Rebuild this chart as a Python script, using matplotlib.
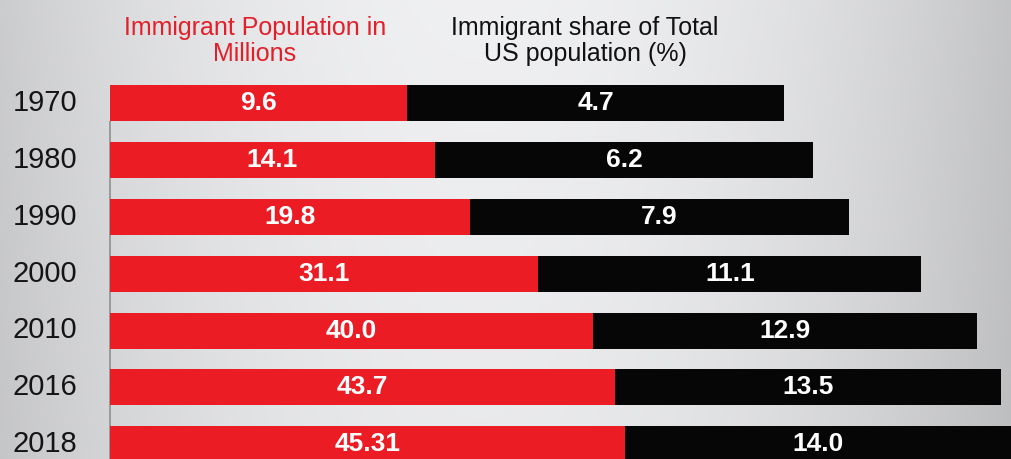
import numpy as np
import matplotlib
matplotlib.use("Agg")
import matplotlib.pyplot as plt

plt.rcParams['font.family'] = ['Liberation Sans', 'DejaVu Sans']

# ---- data -------------------------------------------------------------
years = ['1970', '1980', '1990', '2000', '2010', '2016', '2018']
population_labels = ['9.6', '14.1', '19.8', '31.1', '40.0', '43.7', '45.31']
share_labels = ['4.7', '6.2', '7.9', '11.1', '12.9', '13.5', '14.0']
population_millions = [float(s) for s in population_labels]
share_percent = [float(s) for s in share_labels]

header_population = 'Immigrant Population in\nMillions'
header_share = 'Immigrant share of Total\nUS population (%)'

# ---- style ------------------------------------------------------------
RED = '#ec1c24'
BLACK = '#060606'
W, H = 1012, 459
BAR_LEFT = 110
RED_BASE, RED_SCALE = 239.0, 6.09      # red segment length = base + scale * millions
BLACK_BASE, BLACK_SCALE = 372.0, 1.0   # black segment length = base + scale * percent
ROW_PITCH = 56.75
FIRST_ROW_PX = 103.5
BAR_HEIGHT = 36 / ROW_PITCH

fig = plt.figure(figsize=(W / 100, H / 100), dpi=100)

# soft grey backdrop, lighter towards the centre
bg = fig.add_axes([0, 0, 1, 1])
xs = np.linspace(0, 1, 400)
ys = np.linspace(0, 1, 200)
X, Y = np.meshgrid(xs, ys)
shade = 0.93 - 0.17 * ((X * W - 480) / 530) ** 2 + 0.025 * (0.5 - Y)
shade = np.clip(shade, 0, 1)
bg.imshow(np.dstack([shade - 0.004, shade - 0.002, shade + 0.004]).clip(0, 1),
          extent=(0, 1, 0, 1), aspect='auto', origin='upper', interpolation='bilinear')
bg.set_axis_off()

ax = fig.add_axes([0, 0, 1, 1])
ax.patch.set_alpha(0)
ax.set_xlim(0, W)
top_row = -FIRST_ROW_PX / ROW_PITCH
bottom_row = (H - FIRST_ROW_PX) / ROW_PITCH
ax.set_ylim(bottom_row, top_row)
ax.set_axis_off()

rows = np.arange(len(years))
red_w = RED_BASE + RED_SCALE * np.array(population_millions)
black_w = BLACK_BASE + BLACK_SCALE * np.array(share_percent)

ax.barh(rows, red_w, left=BAR_LEFT, height=BAR_HEIGHT, color=RED, linewidth=0, zorder=2)
ax.barh(rows, black_w, left=BAR_LEFT + red_w, height=BAR_HEIGHT, color=BLACK,
        linewidth=0, zorder=2)

# left axis line running down between the bars
ax.vlines(BAR_LEFT, rows[0] + BAR_HEIGHT / 2, bottom_row, color='#8f9092', lw=1.2, zorder=1)

for i, yr in enumerate(years):
    ax.text(77, rows[i], yr, ha='right', va='center', fontsize=21, color='#141414')
    ax.text(BAR_LEFT + red_w[i] / 2, rows[i], population_labels[i], ha='center',
            va='center', fontsize=19, fontweight='bold', color='white', zorder=3)
    ax.text(BAR_LEFT + red_w[i] + black_w[i] / 2, rows[i], share_labels[i], ha='center',
            va='center', fontsize=19, fontweight='bold', color='white', zorder=3)

fig.text(255 / W, 1 - 16 / H, header_population, ha='center', va='top',
         fontsize=18, color='#e3202a', linespacing=1.12)
fig.text(585 / W, 1 - 16 / H, header_share, ha='center', va='top',
         fontsize=18, color='#111111', linespacing=1.12)

fig.savefig('out.png', dpi=100)
